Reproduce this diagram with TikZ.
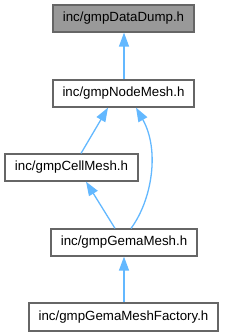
\documentclass[tikz,border=0pt]{standalone}
\usepackage{fontspec}
\setmainfont{Liberation Sans}
\usetikzlibrary{arrows.meta}
\definecolor{edgeblue}{HTML}{63B8FF}
\definecolor{boxline}{HTML}{666666}
\definecolor{boxgray}{HTML}{999999}
\begin{document}
\begin{tikzpicture}[x=1pt,y=-1pt,
  box/.style={draw=boxline,line width=1.2pt,fill=white,inner sep=0pt,minimum height=27pt,font=\fontsize{13.3}{15}\selectfont,text=black},
  arr/.style={draw=edgeblue,line width=1.3pt,-{Triangle[length=14pt,width=10pt,fill=edgeblue]}}]
\useasboundingbox (0,0) rectangle (224,336);
\node[box,fill=boxgray,minimum width=141pt] (n1) at (123.5,18.5) {inc/gmpDataDump.h};
\node[box,minimum width=141pt] (n2) at (123.5,93.5) {inc/gmpNodeMesh.h};
\node[box,minimum width=133pt] (n3) at (71.5,167.5) {inc/gmpCellMesh.h};
\node[box,minimum width=146pt] (n4) at (124,242.5) {inc/gmpGemaMesh.h};
\node[box,minimum width=189pt,minimum height=28pt] (n5) at (123.5,317) {inc/gmpGemaMeshFactory.h};
\draw[arr] ([xshift=0.5pt]n2.north) -- ([xshift=0.5pt]n1.south);
\draw[arr] ([xshift=9.5pt]n3.north) -- ([xshift=-15.5pt]n2.south);
\draw[arr] ([xshift=7pt]n4.north) .. controls (152,200) and (160,150) .. ([xshift=12.5pt]n2.south);
\draw[arr] ([xshift=-9pt]n4.north) -- ([xshift=14.5pt]n3.south);
\draw[arr] ([xshift=0.5pt]n5.north) -- (n4.south);
\end{tikzpicture}
\end{document}
